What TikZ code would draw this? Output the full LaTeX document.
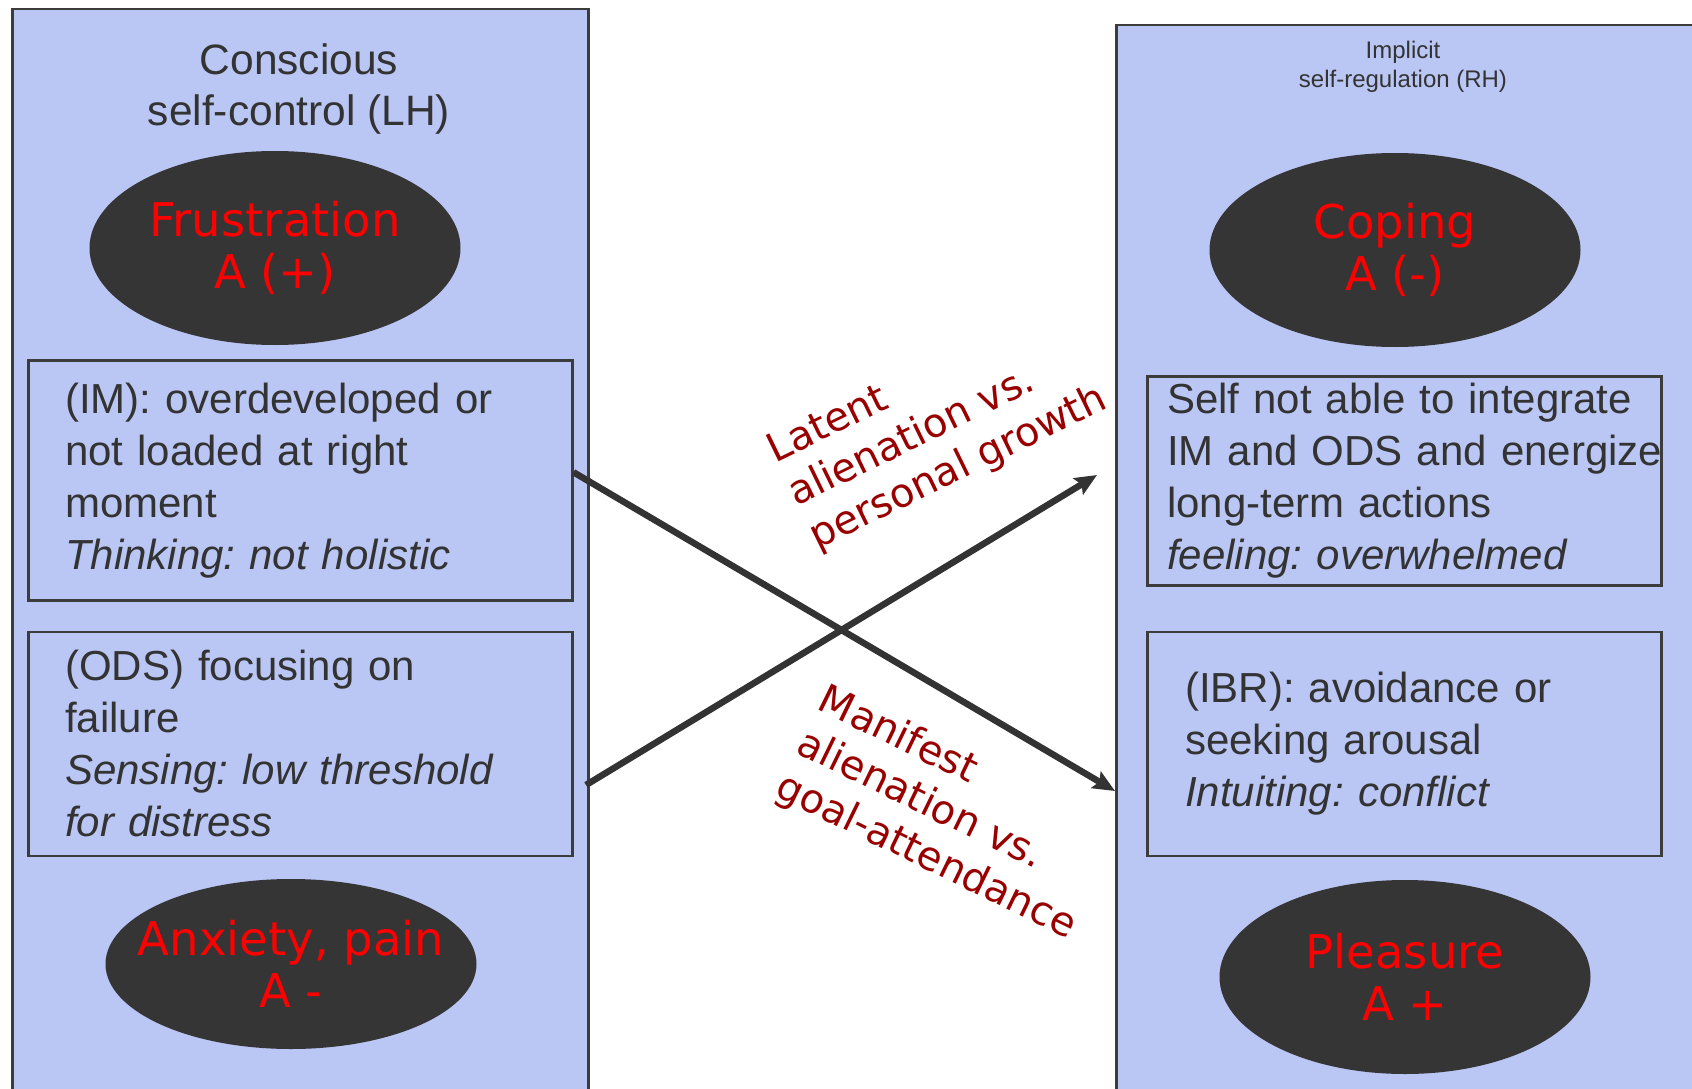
\documentclass[tikz,border=0pt]{standalone}
\usepackage{fontspec}
\setmainfont{Liberation Sans}
\newfontfamily\dejavu{DejaVu Sans}
\usetikzlibrary{arrows.meta,positioning,shapes.geometric}
\definecolor{panelblue}{HTML}{BAC6F4}
\definecolor{edgegray}{HTML}{3C3C3C}
\definecolor{blobgray}{HTML}{353535}
\definecolor{textgray}{HTML}{333333}
\definecolor{labelred}{HTML}{990000}
\frenchspacing
\hyphenpenalty=10000

\begin{document}
\begin{tikzpicture}[
		x=1pt,y=-1pt,
		panel/.style={draw=edgegray,line width=2.5pt,fill=panelblue,rectangle,anchor=north west,minimum height=1100pt,inner sep=0pt},
		heading/.style={align=center,text=textgray},
		blob/.style={ellipse,fill=blobgray,minimum width=371pt,minimum height=194pt,inner xsep=-30pt,inner ysep=0pt,align=center,text=red,font=\dejavu\fontsize{46.5}{52}\selectfont},
		infobox/.style={draw=edgegray,line width=2.5pt,rectangle,anchor=north west,inner ysep=0pt,align=left,text=textgray,font=\fontsize{42}{52}\selectfont},
		slant/.style={align=left,text=labelred,font=\dejavu\fontsize{40}{48}\selectfont},
		arr/.style={-{Stealth[length=22pt,width=19pt,inset=4pt]},line width=6.5pt,draw=textgray}
		]
		\path[use as bounding box,clip] (0,0) rectangle (1692,1089);
		% two halves
		\node[panel,minimum width=576pt] (lh) at (11,8) {};
		\node[panel,minimum width=600pt] (rh) at (1115,24) {};
		\node[heading,font=\fontsize{42.5}{51}\selectfont] (lhtitle) at (299,89) {Conscious\\ self-control (LH)};
		\node[heading,font=\fontsize{24}{29}\selectfont] (rhtitle) at (1403,67) {Implicit\\ self-regulation (RH)};
		% affects
		\node[blob] (frus) at (275,248) {Frustration\\ A (+)};
		\node[blob,minimum height=170pt] (anx) at (291,964) {Anxiety, pain\\ A -};
		\node[blob] (coping) at (1395,250) {Coping\\ A (-)};
		\node[blob] (pleasure) at (1405,977) {Pleasure\\ A +};
		% systems
		\node[infobox,inner xsep=37pt,text width=470pt,minimum height=240pt] (im) at (27,359) {(IM): overdeveloped or\\ not loaded at right\\ moment\\ \textit{Thinking: not holistic}};
		\node[infobox,inner xsep=37pt,text width=470pt,minimum height=224pt,below=29pt of im] (ods) {(ODS) focusing on\\ failure\\ \textit{Sensing: low threshold}\\ \textit{for distress}};
		\node[infobox,inner xsep=20pt,text width=474pt,minimum height=209pt] (self) at (1146,375) {Self~not~able~to~integrate\\ IM~and~ODS~and~energize\\ long-term actions\\ \textit{feeling: overwhelmed}};
		\node[infobox,inner xsep=38pt,text width=438pt,minimum height=224pt,below=44pt of self] (ibr) {(IBR): avoidance or\\ seeking arousal\\ \textit{Intuiting: conflict}};
		% crossing arrows
		\coordinate (tipM) at (1115,791);
		\coordinate (srcL) at (586,785);
		\coordinate (tipL) at (1097,475);
		\draw[arr] ([yshift=8pt]im.east) -- (tipM);
		\draw[arr] (srcL) -- (tipL);
		\node[slant,rotate=26] (latent) at (938,426) {Latent\\ alienation vs.\\ personal growth};
		\node[slant,rotate=-26] (manifest) at (947,814) {Manifest\\ alienation vs.\\ goal-attendance};
	\end{tikzpicture}
\end{document}
